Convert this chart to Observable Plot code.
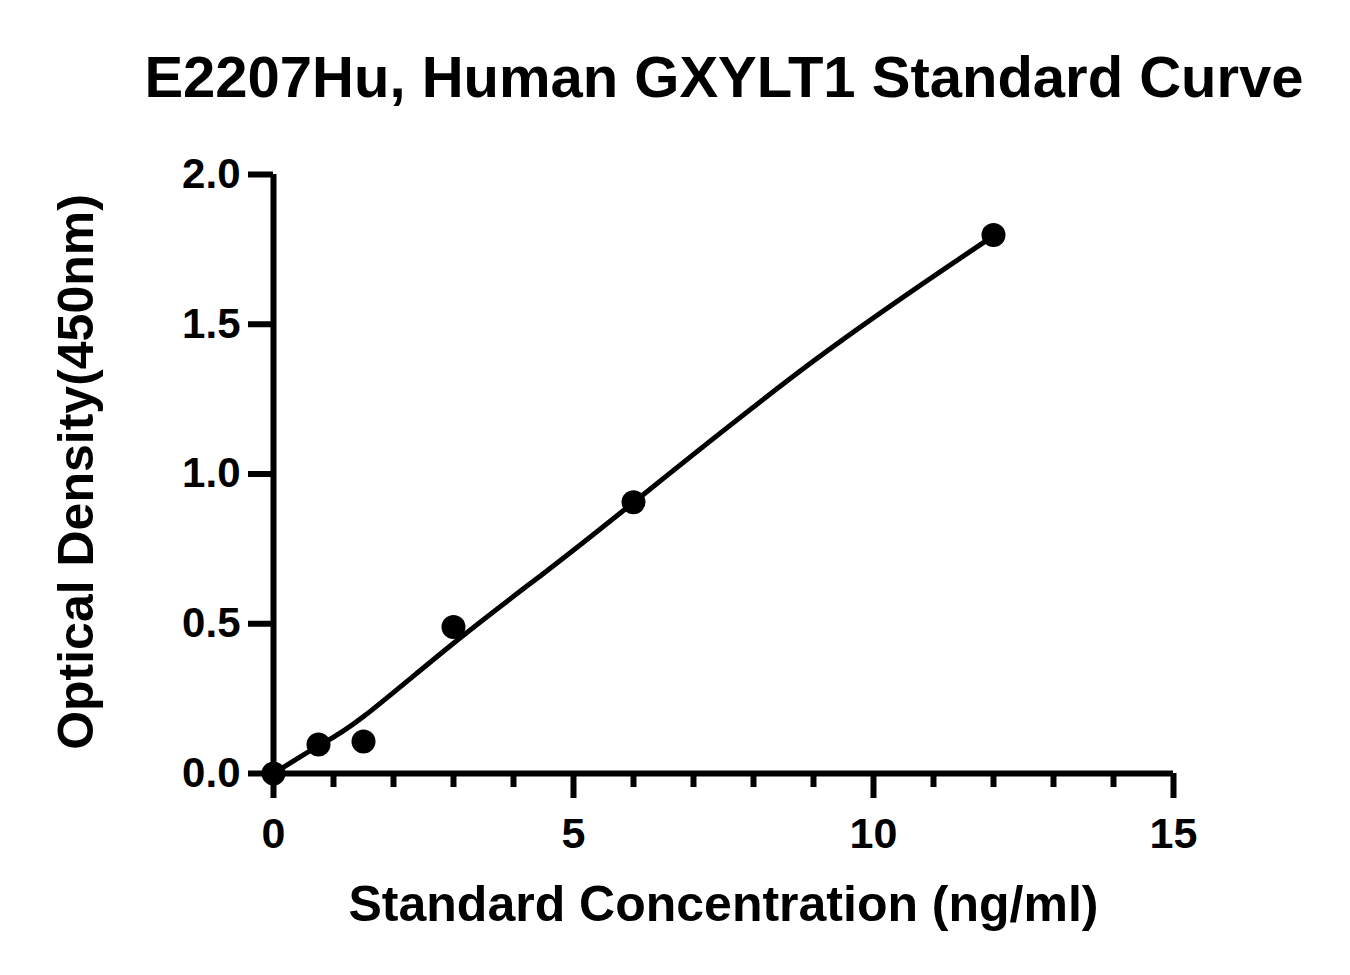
<!DOCTYPE html>
<html>
<head>
<meta charset="utf-8">
<script src="https://cdn.jsdelivr.net/npm/d3@7"></script>
<script src="https://cdn.jsdelivr.net/npm/@observablehq/plot@0.6"></script>
<style>
  html, body { margin: 0; padding: 0; background: #fff; }
  body { width: 1350px; height: 975px; overflow: hidden; font-family: "Liberation Sans", Arial, sans-serif; }
  #title {
    box-sizing: border-box;
    height: 130px;
    padding-top: 48px;
    padding-left: 98px;
    line-height: 58px;
    font-size: 58px;
    font-weight: bold;
    text-align: center;
    color: #000;
    white-space: nowrap;
  }
  #chart svg { display: block; }
</style>
</head>
<body>
<div id="title">E2207Hu, Human GXYLT1 Standard Curve</div>
<div id="chart"></div>
<script>
// Measured standards
const concentrations = [0, 0.75, 1.5, 3, 6, 12];
const opticalDensity = [0.0, 0.097, 0.107, 0.489, 0.906, 1.798];

// Fitted curve
const curveX = [0, 0.75, 1.5, 3, 4.5, 6, 9, 12];
const curveY = [0, 0.092, 0.19, 0.435, 0.668, 0.905, 1.377, 1.795];

// Ticks
const xMajorTicks = [0, 5, 10, 15];
const xMinorTicks = [1, 2, 3, 4, 6, 7, 8, 9, 11, 12, 13, 14];
const yTicks = [0, 0.5, 1.0, 1.5, 2.0];

const xTitle = "Standard Concentration (ng/ml)";
const yTitle = "Optical Density(450nm)";

const points = concentrations.map((c, i) => ({x: c, y: opticalDensity[i]}));
const curve = curveX.map((c, i) => ({x: c, y: curveY[i]}));

const font = "'Liberation Sans', Arial, sans-serif";

const chart = Plot.plot({
  width: 1350,
  height: 845,
  marginLeft: 273,
  marginRight: 177,
  marginTop: 44,
  marginBottom: 202,
  style: {fontFamily: font, fontWeight: "bold", color: "#000", background: "#fff", overflow: "visible"},
  x: {domain: [0, 15]},
  y: {domain: [0, 2]},
  marks: [
    Plot.axisX({ticks: xMinorTicks, tickSize: 14, strokeWidth: 6, text: null, label: null}),
    Plot.axisX({ticks: xMajorTicks, tickSize: 25, strokeWidth: 6, tickPadding: 19,
      tickFormat: d3.format("d"), fontSize: 43, fontWeight: "bold", label: null}),
    Plot.axisY({ticks: yTicks, tickSize: 25, strokeWidth: 6, tickPadding: 8,
      tickFormat: d3.format(".1f"), fontSize: 42, fontWeight: "bold", label: null}),
    Plot.ruleX([0], {stroke: "#000", strokeWidth: 6}),
    Plot.ruleY([0], {stroke: "#000", strokeWidth: 6}),
    Plot.line(curve, {x: "x", y: "y", curve: "natural", stroke: "#000", strokeWidth: 5}),
    Plot.dot(points, {x: "x", y: "y", r: 12, fill: "#000", stroke: "none"}),
    Plot.text([xTitle], {text: d => d, frameAnchor: "bottom", textAnchor: "middle", lineAnchor: "middle", dy: 131,
      fontSize: 50, fontWeight: "bold", fill: "#000"}),
    Plot.text([yTitle], {text: d => d, frameAnchor: "left", textAnchor: "middle", lineAnchor: "middle", rotate: -90, dx: -197, dy: -2,
      fontSize: 50, fontWeight: "bold", fill: "#000"})
  ]
});
document.getElementById("chart").appendChild(chart);
</script>
</body>
</html>
